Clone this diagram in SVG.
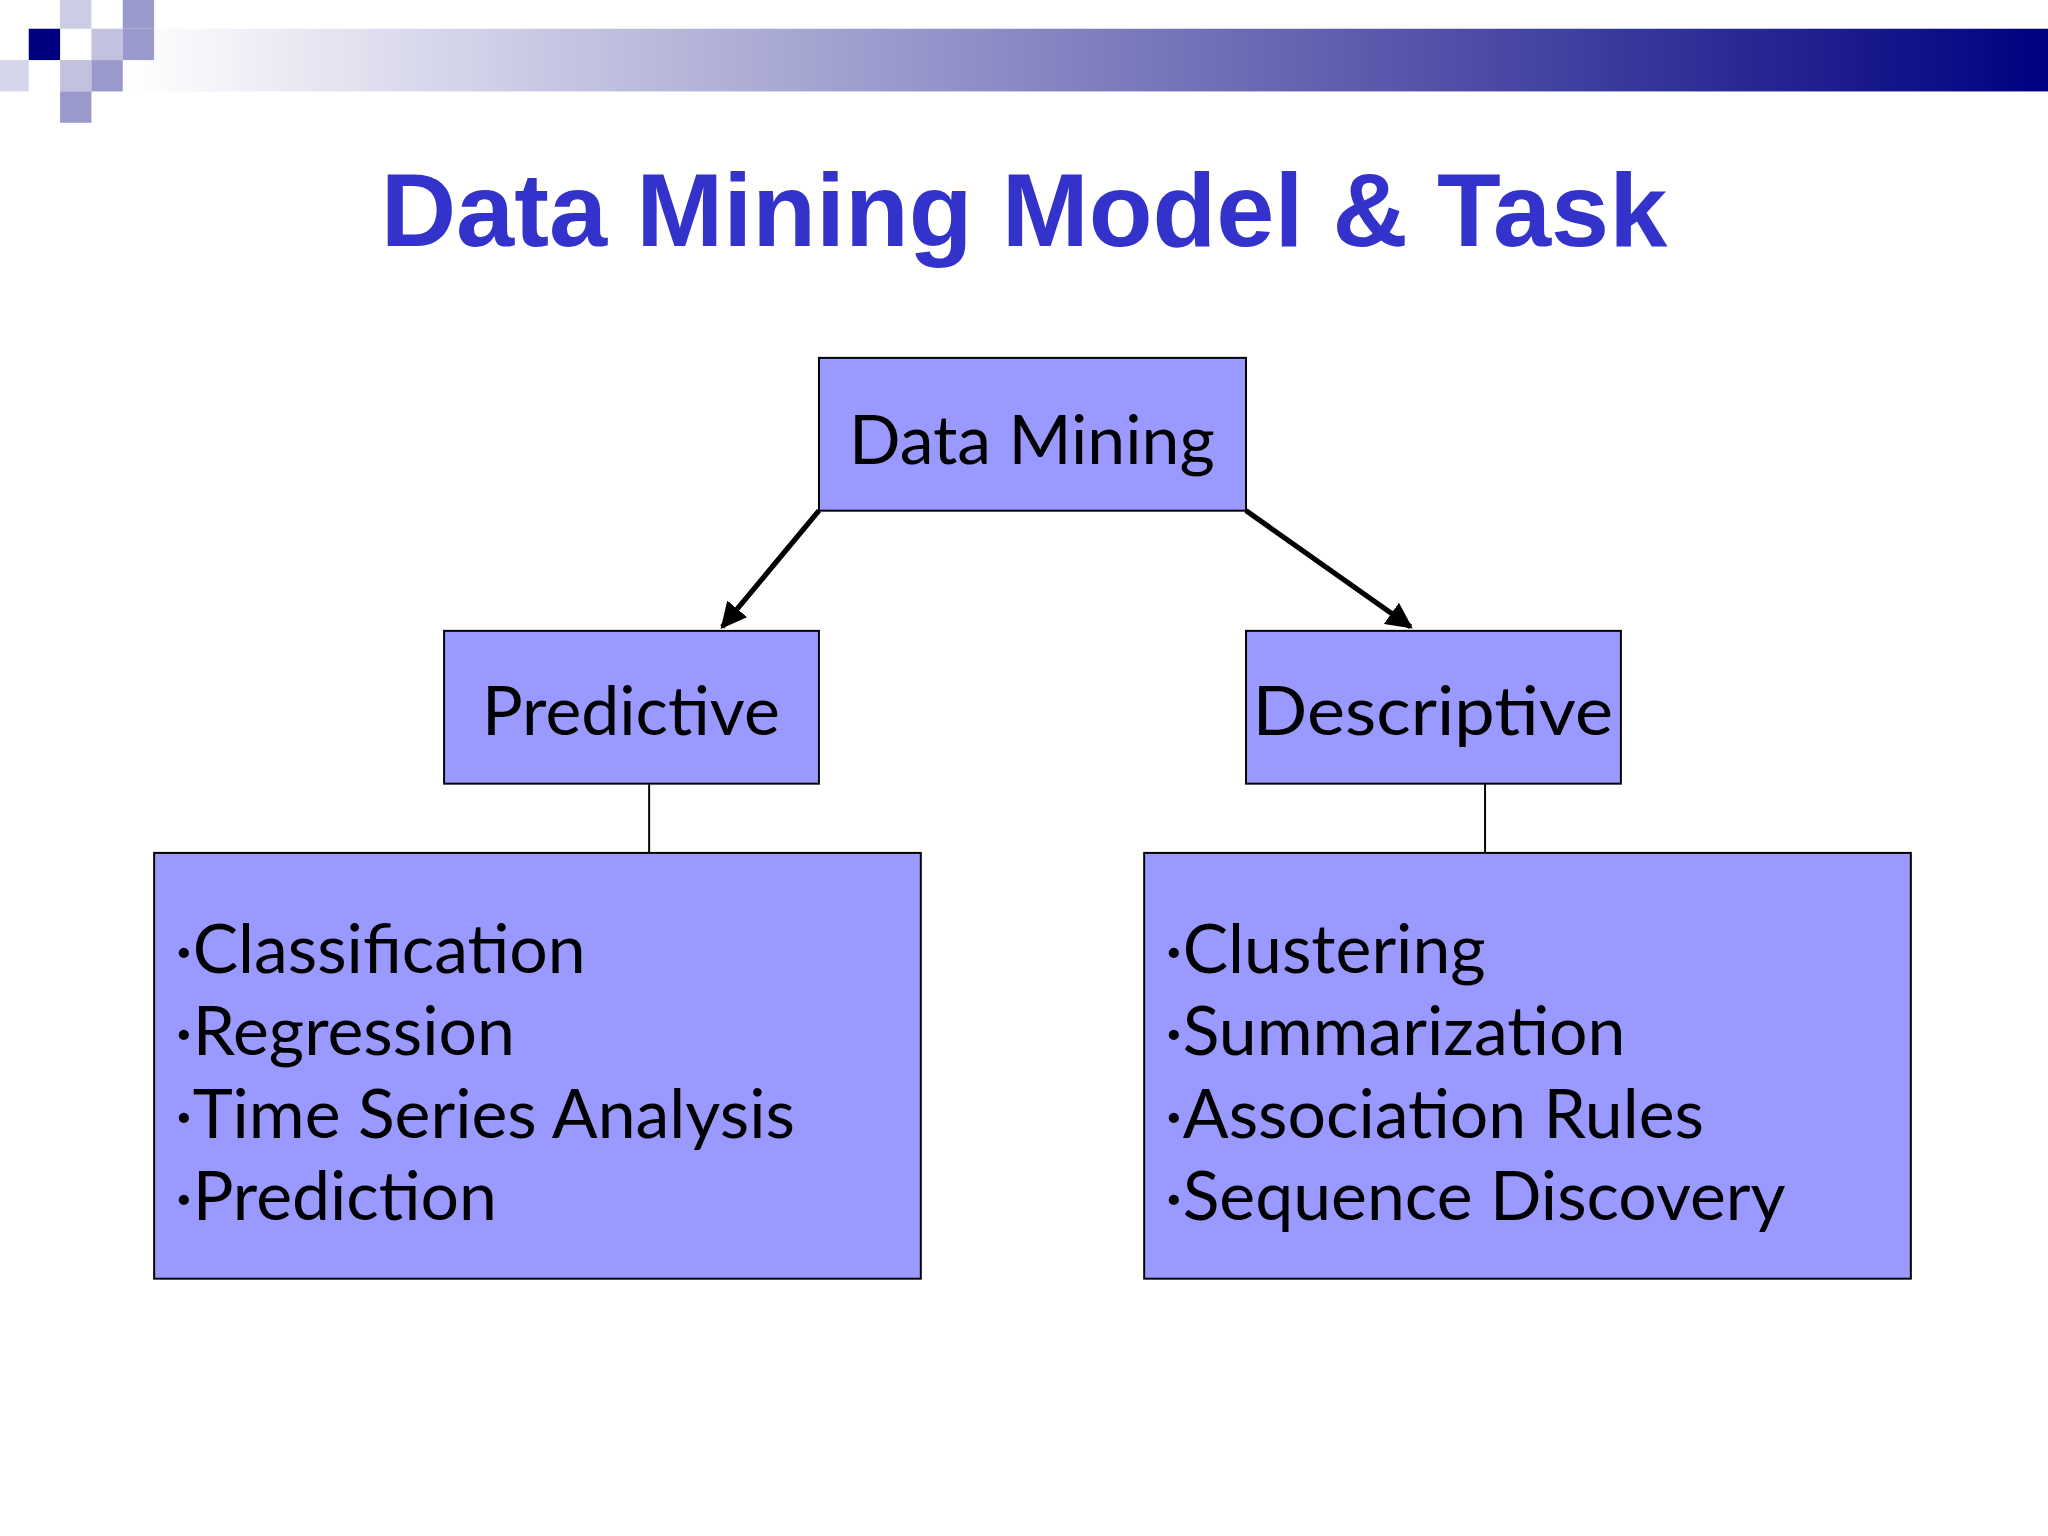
<svg xmlns="http://www.w3.org/2000/svg" width="2048" height="1536" viewBox="0 0 2048 1536">
<defs>
<linearGradient id="bar" x1="0" x2="1" y1="0" y2="0"><stop offset="0" stop-color="#ffffff"/><stop offset="1" stop-color="#000080"/></linearGradient>
<marker id="ah" viewBox="0 0 10 10" refX="9" refY="5" markerWidth="5" markerHeight="5" orient="auto"><path d="M0,0 L10,5 L0,10 z" fill="#000"/></marker>
<style>
.box{fill:#9999FF;stroke:#000;stroke-width:1.5}
.t{font-family:"Comic Sans MS","Lato","DejaVu Sans",sans-serif;font-size:52px;fill:#000}
.sq{fill:#9999CC}
</style>
</defs>
<rect width="2048" height="1536" fill="#fff"/>
<g transform="scale(1.30612)">
<rect x="100" y="22" width="1468" height="48" fill="url(#bar)"/>
<rect class="sq" x="46" y="0" width="24" height="22" opacity="0.5"/>
<rect class="sq" x="94" y="0" width="24" height="22"/>
<rect class="sq" x="70" y="22" width="24" height="24" opacity="0.6"/>
<rect class="sq" x="94" y="22" width="24" height="24"/>
<rect class="sq" x="0" y="46" width="22" height="24" opacity="0.4"/>
<rect class="sq" x="46" y="46" width="24" height="24" opacity="0.6"/>
<rect class="sq" x="70" y="46" width="24" height="24"/>
<rect class="sq" x="46" y="70" width="24" height="24"/>
<rect x="22" y="22" width="24" height="24" fill="#000080"/>
<text x="784" y="188" text-anchor="middle" font-family="Liberation Sans, Arial, sans-serif" font-weight="bold" font-size="80" fill="#3333CC">Data Mining Model &amp; Task</text>
<g id="connectors" stroke="#000">
<line x1="627" y1="391" x2="553" y2="480" stroke-width="4" marker-end="url(#ah)"/>
<line x1="954" y1="391" x2="1080" y2="480" stroke-width="4" marker-end="url(#ah)"/>
<line x1="497" y1="600" x2="497" y2="653" stroke-width="1.5"/>
<line x1="1137" y1="600" x2="1137" y2="653" stroke-width="1.5"/>
</g>
<g id="datamining"><rect class="box" x="627" y="274" width="327" height="117"/><text class="t" x="790" y="355" text-anchor="middle">Data Mining</text></g>
<g id="predictive"><rect class="box" x="340" y="483" width="287" height="117"/><text class="t" x="483" y="563" text-anchor="middle">Predictive</text></g>
<g id="descriptive"><rect class="box" x="954" y="483" width="287" height="117"/><text class="t" x="1097" y="563" text-anchor="middle" textLength="276" lengthAdjust="spacingAndGlyphs">Descriptive</text></g>
<g id="predlist"><rect class="box" x="118" y="653" width="587" height="326"/>
<text class="t" x="134" y="745">·Classification</text>
<text class="t" x="134" y="808">·Regression</text>
<text class="t" x="134" y="871">·Time Series Analysis</text>
<text class="t" x="134" y="934">·Prediction</text></g>
<g id="desclist"><rect class="box" x="876" y="653" width="587" height="326"/>
<text class="t" x="892" y="745">·Clustering</text>
<text class="t" x="892" y="808">·Summarization</text>
<text class="t" x="892" y="871">·Association Rules</text>
<text class="t" x="892" y="934">·Sequence Discovery</text></g>
</g>
</svg>
